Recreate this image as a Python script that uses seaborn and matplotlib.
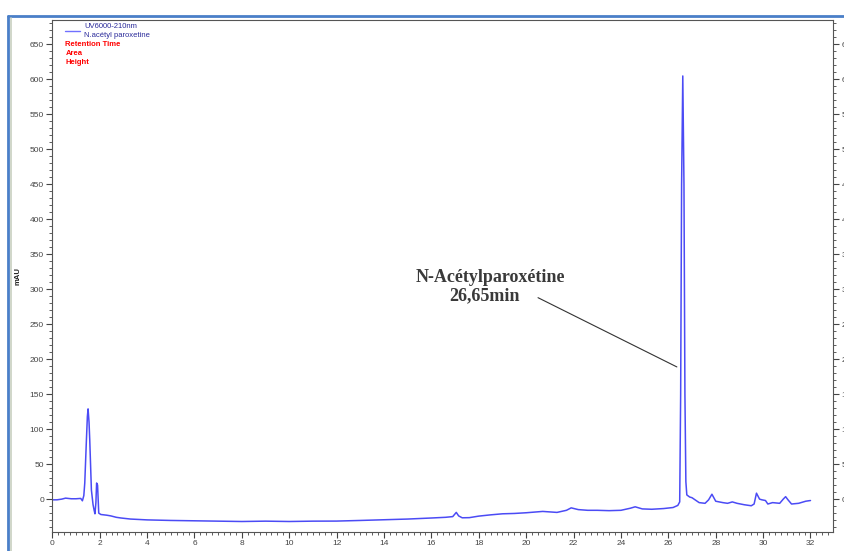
import numpy as np
import pandas as pd
import matplotlib
matplotlib.use("Agg")
import matplotlib.pyplot as plt
from matplotlib.lines import Line2D
from matplotlib.ticker import MultipleLocator
import seaborn as sns

# chromatogram (minutes, mAU)
minutes = [0.0, 0.2, 0.4, 0.56, 0.8, 1.0, 1.2, 1.27, 1.33, 1.37, 1.44, 1.48, 1.51, 1.55,
           1.58, 1.65, 1.72, 1.76, 1.8, 1.84, 1.87, 1.91, 1.96, 2.05, 2.3, 2.47, 2.7, 2.9,
           3.3, 4.0, 5.0, 6.0, 7.0, 8.0, 9.0, 10.0, 11.0, 12.0, 13.0, 14.0, 15.0, 16.0,
           16.6, 16.9, 17.0, 17.05, 17.15, 17.3, 17.6, 18.0, 18.5, 19.0, 19.5, 20.0, 20.7,
           21.3, 21.7, 21.9, 22.2, 22.6, 23.0, 23.5, 24.0, 24.4, 24.6, 24.9, 25.3, 25.8,
           26.2, 26.4, 26.48, 26.52, 26.56, 26.61, 26.66, 26.70, 26.74, 26.78, 26.9, 27.0,
           27.3, 27.55, 27.7, 27.84, 28.0, 28.3, 28.5, 28.7, 28.9, 29.2, 29.5, 29.62, 29.72,
           29.85, 29.95, 30.1, 30.2, 30.4, 30.7, 30.85, 30.95, 31.05, 31.2, 31.5, 31.8, 32.0]
mau = [-1, -1, 0, 1.4, 0.5, 0.5, 1, -2.4, 5, 23, 85, 118, 129, 110,
       85, 13, -8, -15, -21, -5, 23, 20, -20, -22, -23, -24, -26, -27,
       -28.5, -29.7, -30.5, -31, -31.5, -32, -31.5, -32, -31.5, -31.4, -30.5, -29.5, -28.5, -27,
       -26, -25, -21, -19, -24, -26.7, -26.5, -24.3, -22.5, -21, -20.5, -19.5, -17.6,
       -19, -16, -12.5, -15, -16, -16, -16.5, -16, -13, -11, -14, -14.5, -13.5,
       -12, -9, -4, 150, 450, 605, 450, 150, 25, 6, 3, 2,
       -5, -6, -1, 7, -3, -5, -6, -4, -6, -8, -9.5, -7, 8.5,
       0, -1, -2, -7, -5, -6, 0, 3.5, -1, -7, -6, -3, -2]

legend_top = ["UV6000-210nm", "N.acétyl paroxetine"]
legend_red = ["Retention Time", "Area", "Height"]
peak_name = "N-Acétylparoxétine"
peak_time = "26,65min"

df = pd.DataFrame({"Minutes": minutes, "mAU": mau})

sns.set_style("ticks")
plt.rcParams["font.family"] = ["Liberation Sans", "DejaVu Sans"]

fig = plt.figure(figsize=(8.45, 5.51), dpi=100)
ax = fig.add_axes([0.0619, 0.0345, 0.9239, 0.9292])

line_color = "#4b4bf5"
sns.lineplot(data=df, x="Minutes", y="mAU", ax=ax, color=line_color, linewidth=1.1,
             sort=False, estimator=None)

ax.set_xlim(0, 32.95)
ax.set_ylim(-47, 685)
ax.xaxis.set_major_locator(MultipleLocator(2))
ax.xaxis.set_minor_locator(MultipleLocator(0.25))
ax.yaxis.set_minor_locator(MultipleLocator(10))
ax.set_yticks([v for v in range(0, 700, 50)])

ax.tick_params(axis="both", which="major", direction="out", length=4, width=0.8,
               labelsize=6, colors="#444444", pad=2)
ax.tick_params(axis="both", which="minor", direction="out", length=2, width=0.6,
               colors="#444444")
ax.tick_params(axis="y", which="both", right=True, labelright=True)
for sp in ax.spines.values():
    sp.set_color("#555555")
    sp.set_linewidth(0.8)

ax.set_xlabel("Minutes", fontsize=6, color="#222222", labelpad=4)
ax.set_ylabel("mAU", fontsize=5.5, fontweight="bold", color="#222222", labelpad=6)

# legend block in top-left corner
ax.plot([0.55, 1.15], [669, 669], color="#7070ff", linewidth=1.0)
ax.text(1.35, 676, legend_top[0], fontsize=5.5, color="#2a2a9a", va="center")
ax.text(1.35, 663, legend_top[1], fontsize=5.5, color="#2a2a9a", va="center")
for i, lab in enumerate(legend_red):
    ax.text(0.55, 650 - i * 12.8, lab, fontsize=5.5, color="red", fontweight="bold",
            va="center")

# peak annotation
ax.text(18.47, 317, peak_name, fontsize=13, fontweight="bold", color="#3a3a3a",
        family="Liberation Serif", ha="center", va="center")
ax.text(18.26, 291, peak_time, fontsize=13, fontweight="bold", color="#3a3a3a",
        family="Liberation Serif", ha="center", va="center")
ax.plot([20.5, 26.36], [288, 189], color="#333333", linewidth=0.8)

# window frame around the chart
fig.add_artist(Line2D([0.0095, 1.0], [0.971, 0.971], color="#4a7fc8", linewidth=2.0))
fig.add_artist(Line2D([0.0095, 0.0095], [0.0, 0.971], color="#4a7fc8", linewidth=2.0))
fig.add_artist(Line2D([0.0135, 0.0135], [0.0, 0.968], color="#c8d0c0", linewidth=1.2))

fig.savefig("out.png", dpi=100)
